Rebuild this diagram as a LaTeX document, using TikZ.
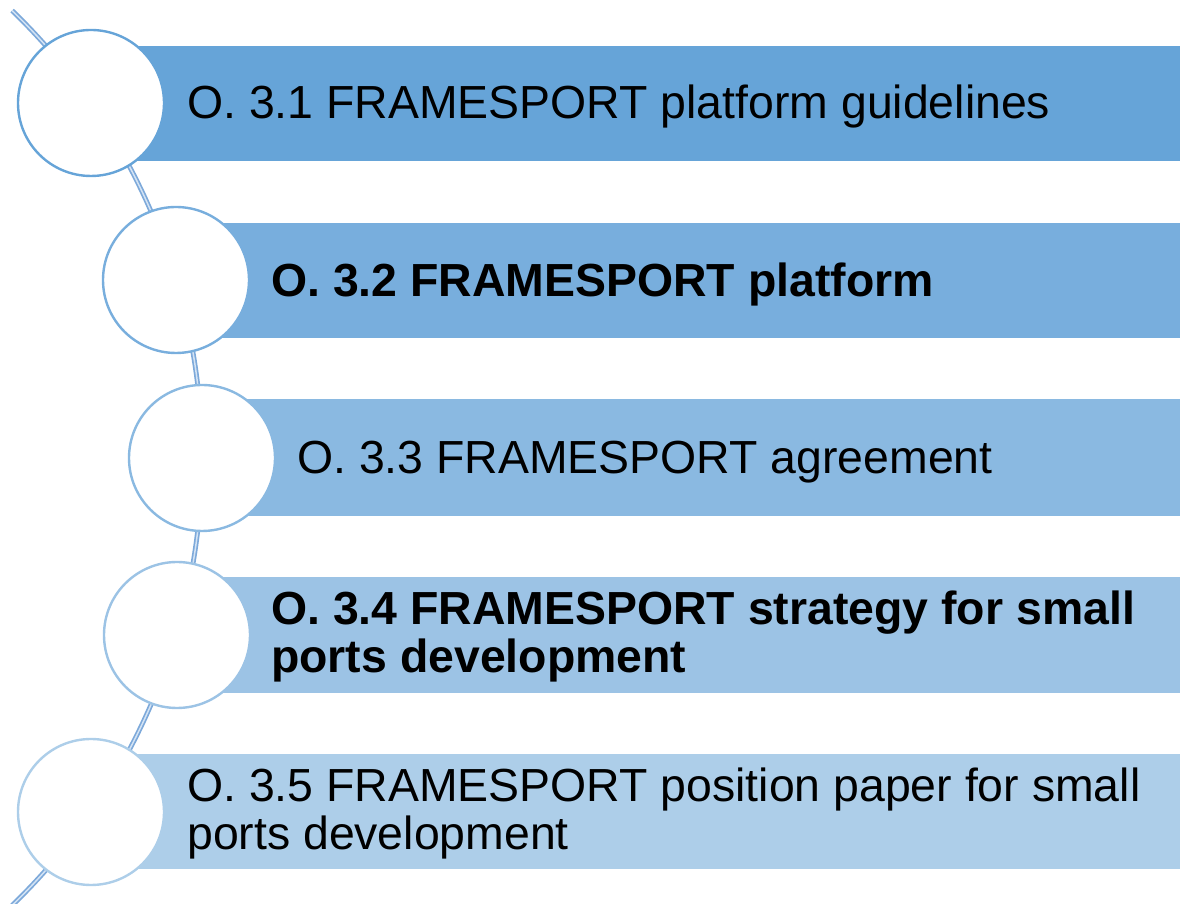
\documentclass[tikz,border=0pt]{standalone}
\usepackage{fontspec}
\setmainfont{Liberation Sans}
\definecolor{barA}{HTML}{66A4D8}
\definecolor{barB}{HTML}{78AEDD}
\definecolor{barC}{HTML}{8AB9E1}
\definecolor{barD}{HTML}{9CC3E5}
\definecolor{barE}{HTML}{ADCEE9}
\definecolor{arcblue}{HTML}{7DA9DA}
\definecolor{arcin}{HTML}{D3E3F4}
\begin{document}
\begin{tikzpicture}[x=1pt,y=1pt,
  ring/.style={circle,fill=white,draw=#1,line width=2.4pt,minimum size=146pt,inner sep=0pt},
  label/.style={anchor=base west,inner sep=0pt,align=left,font=\fontsize{46.4}{48}\selectfont},
  boldlabel/.style={label,font=\fontsize{46.4}{48}\selectfont\bfseries}]
\useasboundingbox (0,0) rectangle (1180,904);
% arc line
\draw[draw=arcblue,line width=1.7pt,double=arcin,double distance=1.5pt]
  (-420,446) ++(-46:622) arc (-46:46:622);
% bars
\fill[barA] (91,858.3) rectangle (1180,743);
\fill[barB] (176,681.3) rectangle (1180,565.7);
\fill[barC] (202,504.7) rectangle (1180,388.3);
\fill[barD] (177,327.3) rectangle (1180,211.3);
\fill[barE] (91,149.7) rectangle (1180,34.7);
% circles
\node[ring=barA] (c1) at (91,801) {};
\node[ring=barB] (c2) at (176,624) {};
\node[ring=barC] (c3) at (202,446) {};
\node[ring=barD] (c4) at (177,269) {};
\node[ring=barE] (c5) at (91,92) {};
% texts
\node[label] (t1) at (187,785.5) {O. 3.1 FRAMESPORT platform guidelines};
\node[boldlabel] (t2) at (271,607.8) {O. 3.2 FRAMESPORT platform};
\node[label] (t3) at (297,430.7) {O. 3.3 FRAMESPORT agreement};
\node[boldlabel,anchor=north west] (t4) at (271,313.5) {O. 3.4 FRAMESPORT strategy for small\\ports development};
\node[label,anchor=north west] (t5) at (187,136.5) {O. 3.5 FRAMESPORT position paper for small\\ports development};
\end{tikzpicture}
\end{document}
